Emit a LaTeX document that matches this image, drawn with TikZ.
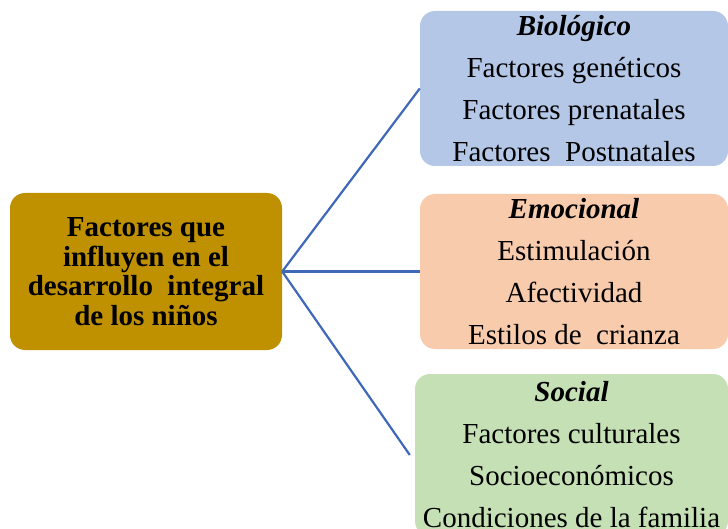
\documentclass[tikz,border=0pt]{standalone}
\usepackage{fontspec}
\setmainfont{Liberation Serif}
\usepackage{xcolor}
\definecolor{gold}{HTML}{BF9000}
\definecolor{bluebox}{HTML}{B4C7E7}
\definecolor{orangebox}{HTML}{F8CBAD}
\definecolor{greenbox}{HTML}{C5E0B4}
\definecolor{linkblue}{HTML}{3F68B8}
\begin{document}
\begin{tikzpicture}[x=1pt, y=1pt,
      box/.style={rounded corners=15pt, minimum width=308pt,
                  minimum height=155pt, align=center, inner sep=0pt,
                  font=\fontsize{29}{42}\selectfont},
      link/.style={draw=linkblue, line width=2.2pt}
    ]
      \useasboundingbox (0,0) rectangle (728,528);
      % Central topic
      \node[box, fill=gold, minimum width=272pt, minimum height=157pt,
            font=\fontsize{29}{29.5}\selectfont\bfseries] (main) at (146,256.5)
        {Factores que\\influyen en el\\desarrollo\ \ integral\\de los niños};
      % Biologico
      \node[box, fill=bluebox] (bio) at (574,439.5)
        {\textbf{\textit{Biológico}}\\Factores genéticos\\Factores prenatales\\Factores\ \ Postnatales};
      % Emocional
      \node[box, fill=orangebox] (emo) at (574,256.5)
        {\textbf{\textit{Emocional}}\\Estimulación\\Afectividad\\Estilos de\ \ crianza};
      % Social
      \node[box, fill=greenbox, minimum width=313pt, minimum height=162pt] (soc) at (571.5,73)
        {\textbf{\textit{Social}}\\Factores culturales\\Socioeconómicos\\Condiciones de la familia};

      \draw[link] (main.east) -- (bio.west);
      \draw[link] (main.east) -- (emo.west);
      \draw[link] (main.east) -- ([xshift=-5pt]soc.west);
    \end{tikzpicture}
\end{document}
